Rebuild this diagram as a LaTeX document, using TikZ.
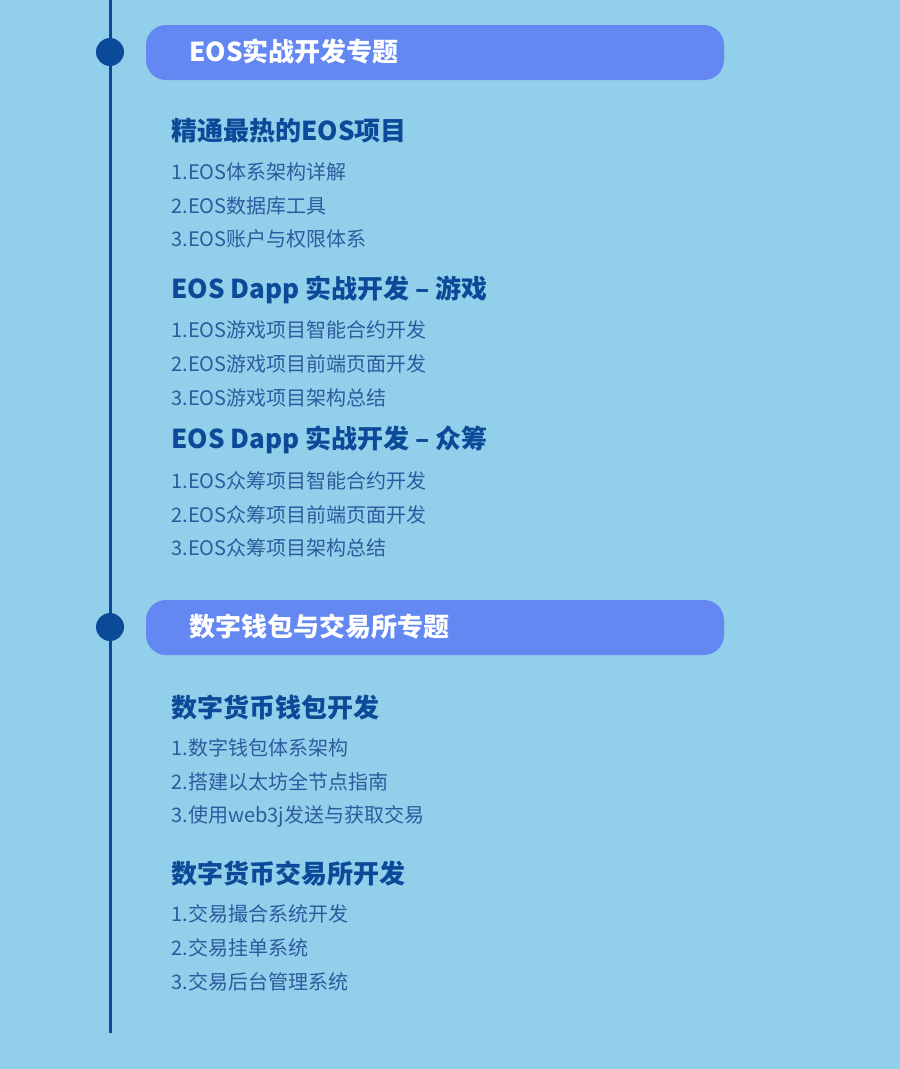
\documentclass[tikz,border=0pt]{standalone}
\usepackage{fontspec}
\setmainfont{Noto Sans CJK SC}
\definecolor{bg}{HTML}{92CFEA}
\definecolor{dk}{HTML}{0B4A98}
\definecolor{bar}{HTML}{6388F2}
\definecolor{it}{HTML}{2D5B9E}
\begin{document}
\begin{tikzpicture}[x=1pt,y=-1pt,
  hdr/.style={anchor=west,text=white,font=\fontsize{26}{28}\selectfont\bfseries},
  ttl/.style={anchor=west,text=dk,font=\fontsize{26}{28}\selectfont\bfseries},
  itm/.style={anchor=west,text=it,font=\fontsize{20}{22}\selectfont},
  barbox/.style={fill=bar,rounded corners=20pt}]
\fill[bg] (0,0) rectangle (900,1069);
\useasboundingbox (0,0) rectangle (900,1069);
\draw[dk,line width=3pt] (110,0) coordinate (ltop) -- (110,1033) coordinate (lbot);
\fill[barbox] (146,25) rectangle (724,80);
\fill[barbox] (146,600) rectangle (724,655);
\fill[dk] (110,52) circle (14) coordinate (d1);
\fill[dk] (110,627) circle (14) coordinate (d2);
\node[hdr] (h1) at (186,52) {EOS实战开发专题};
\node[hdr] (h2) at (186,627) {数字钱包与交易所专题};
\node[ttl] (t1) at (168,131) {精通最热的EOS项目};
\node[itm] (a1) at (168,172) {1.EOS体系架构详解};
\node[itm] (a2) at (168,206) {2.EOS数据库工具};
\node[itm] (a3) at (168,239) {3.EOS账户与权限体系};
\node[ttl] (t2) at (168,290) {EOS Dapp 实战开发 -- 游戏};
\node[itm] (b1) at (168,330) {1.EOS游戏项目智能合约开发};
\node[itm] (b2) at (168,364) {2.EOS游戏项目前端页面开发};
\node[itm] (b3) at (168,398) {3.EOS游戏项目架构总结};
\node[ttl] (t3) at (168,440) {EOS Dapp 实战开发 -- 众筹};
\node[itm] (c1) at (168,481) {1.EOS众筹项目智能合约开发};
\node[itm] (c2) at (168,515) {2.EOS众筹项目前端页面开发};
\node[itm] (c3) at (168,548) {3.EOS众筹项目架构总结};
\node[ttl] (t4) at (168,708) {数字货币钱包开发};
\node[itm] (e1) at (168,748) {1.数字钱包体系架构};
\node[itm] (e2) at (168,782) {2.搭建以太坊全节点指南};
\node[itm] (e3) at (168,816) {3.使用web3j发送与获取交易};
\node[ttl] (t5) at (168,874) {数字货币交易所开发};
\node[itm] (f1) at (168,914) {1.交易撮合系统开发};
\node[itm] (f2) at (168,948) {2.交易挂单系统};
\node[itm] (f3) at (168,982) {3.交易后台管理系统};
\end{tikzpicture}
\end{document}
